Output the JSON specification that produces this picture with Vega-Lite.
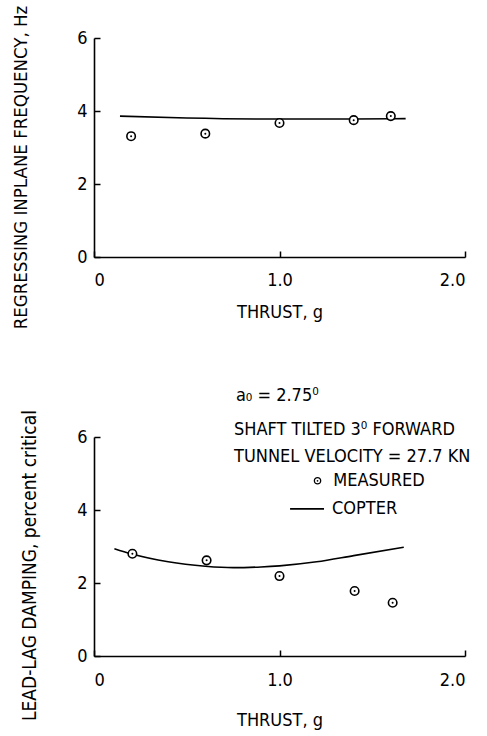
{
  "$schema": "https://vega.github.io/schema/vega-lite/v6.json",
  "background": "white",
  "padding": {"left": 10, "top": 2, "right": 4, "bottom": 2},
  "spacing": 55,
  "config": {
    "view": {"stroke": null},
    "font": "Liberation Sans Narrow, DejaVu Sans Condensed, Roboto",
    "axis": {
      "grid": false,
      "domainColor": "black",
      "domainWidth": 1.6,
      "tickColor": "black",
      "tickWidth": 1.5,
      "tickSize": -6,
      "labelColor": "black",
      "labelFont": "Liberation Sans Narrow, DejaVu Sans Condensed, Roboto",
      "labelFontSize": 18,
      "titleColor": "black",
      "titleFont": "Liberation Sans Narrow, DejaVu Sans Condensed, Roboto",
      "titleFontSize": 18,
      "titleFontWeight": "normal"
    },
    "text": {"font": "Liberation Sans Narrow, DejaVu Sans Condensed, Roboto", "fontSize": 18, "color": "black"}
  },
  "datasets": {
    "topMeasured": [
      {"thrust": 0.2, "freq": 3.31},
      {"thrust": 0.6, "freq": 3.38},
      {"thrust": 1.0, "freq": 3.67},
      {"thrust": 1.4, "freq": 3.75},
      {"thrust": 1.6, "freq": 3.86}
    ],
    "topCopter": [
      {"thrust": 0.14, "freq": 3.86},
      {"thrust": 0.5, "freq": 3.81},
      {"thrust": 1.0, "freq": 3.78},
      {"thrust": 1.4, "freq": 3.78},
      {"thrust": 1.68, "freq": 3.79}
    ],
    "botMeasured": [
      {"thrust": 0.207, "damping": 2.8},
      {"thrust": 0.607, "damping": 2.62},
      {"thrust": 1.0, "damping": 2.19},
      {"thrust": 1.405, "damping": 1.78},
      {"thrust": 1.61, "damping": 1.46}
    ],
    "botCopter": [
      {"thrust": 0.11, "damping": 2.94},
      {"thrust": 0.2, "damping": 2.8},
      {"thrust": 0.4, "damping": 2.58},
      {"thrust": 0.6, "damping": 2.46},
      {"thrust": 0.75, "damping": 2.42},
      {"thrust": 0.9, "damping": 2.44},
      {"thrust": 1.0, "damping": 2.47},
      {"thrust": 1.2, "damping": 2.58},
      {"thrust": 1.4, "damping": 2.75},
      {"thrust": 1.67, "damping": 2.98}
    ],
    "notes": [
      {"thrust": 0.765, "damping": 7.12, "label": "a₀ = 2.75⁰"},
      {"thrust": 0.755, "damping": 6.19, "label": "SHAFT TILTED 3⁰ FORWARD"},
      {"thrust": 0.755, "damping": 5.45, "label": "TUNNEL VELOCITY = 27.7 KN"},
      {"thrust": 1.29, "damping": 4.79, "label": "MEASURED"},
      {"thrust": 1.283, "damping": 4.03, "label": "COPTER"}
    ],
    "legendSymbol": [
      {"thrust": 1.205, "damping": 4.8}
    ],
    "legendLine": [
      {"thrust": 1.057, "thrust2": 1.24, "damping": 4.03}
    ]
  },
  "vconcat": [
    {
      "width": 371,
      "height": 219,
      "layer": [
        {
          "data": {"name": "topCopter"},
          "mark": {"type": "line", "color": "black", "strokeWidth": 1.6, "interpolate": "monotone"},
          "encoding": {
            "x": {"field": "thrust", "type": "quantitative", "scale": {"domain": [0, 2]},
              "axis": {"values": [0, 1, 2], "labelExpr": "datum.value == 0 ? '0' : format(datum.value, '.1f')", "title": "THRUST, g", "titlePadding": 14, "labelPadding": 20}},
            "y": {"field": "freq", "type": "quantitative", "scale": {"domain": [0, 6]},
              "axis": {"values": [0, 2, 4, 6], "title": "REGRESSING INPLANE FREQUENCY,  Hz", "titleFontSize": 18.5, "titleX": -74, "titleY": 129, "titleBaseline": "middle", "titleAlign": "center", "labelPadding": 13}}
          }
        },
        {
          "data": {"name": "topMeasured"},
          "mark": {"type": "point", "shape": "circle", "size": 72, "stroke": "black", "strokeWidth": 1.6, "fill": "white", "filled": false, "opacity": 1},
          "encoding": {
            "x": {"field": "thrust", "type": "quantitative"},
            "y": {"field": "freq", "type": "quantitative"}
          }
        },
        {
          "data": {"name": "topMeasured"},
          "mark": {"type": "circle", "size": 4, "color": "black", "opacity": 1},
          "encoding": {
            "x": {"field": "thrust", "type": "quantitative"},
            "y": {"field": "freq", "type": "quantitative"}
          }
        }
      ]
    },
    {
      "width": 371,
      "height": 219,
      "layer": [
        {
          "data": {"name": "botCopter"},
          "mark": {"type": "line", "color": "black", "strokeWidth": 1.6, "interpolate": "monotone"},
          "encoding": {
            "x": {"field": "thrust", "type": "quantitative", "scale": {"domain": [0, 2]},
              "axis": {"values": [0, 1, 2], "labelExpr": "datum.value == 0 ? '0' : format(datum.value, '.1f')", "title": "THRUST, g", "titlePadding": 22, "labelPadding": 21}},
            "y": {"field": "damping", "type": "quantitative", "scale": {"domain": [0, 6]},
              "axis": {"values": [0, 2, 4, 6], "title": "LEAD-LAG DAMPING, percent critical", "titleFontSize": 19, "titleX": -65, "titleY": 128, "titleBaseline": "middle", "titleAlign": "center", "labelPadding": 13}}
          }
        },
        {
          "data": {"name": "botMeasured"},
          "mark": {"type": "point", "shape": "circle", "size": 72, "stroke": "black", "strokeWidth": 1.6, "fill": "white", "filled": false, "opacity": 1},
          "encoding": {
            "x": {"field": "thrust", "type": "quantitative"},
            "y": {"field": "damping", "type": "quantitative"}
          }
        },
        {
          "data": {"name": "botMeasured"},
          "mark": {"type": "circle", "size": 4, "color": "black", "opacity": 1},
          "encoding": {
            "x": {"field": "thrust", "type": "quantitative"},
            "y": {"field": "damping", "type": "quantitative"}
          }
        },
        {
          "data": {"name": "notes"},
          "mark": {"type": "text", "align": "left", "baseline": "middle"},
          "encoding": {
            "x": {"field": "thrust", "type": "quantitative"},
            "y": {"field": "damping", "type": "quantitative"},
            "text": {"field": "label"}
          }
        },
        {
          "data": {"name": "legendSymbol"},
          "mark": {"type": "point", "shape": "circle", "size": 40, "stroke": "black", "strokeWidth": 1.3, "filled": false, "opacity": 1},
          "encoding": {
            "x": {"field": "thrust", "type": "quantitative"},
            "y": {"field": "damping", "type": "quantitative"}
          }
        },
        {
          "data": {"name": "legendSymbol"},
          "mark": {"type": "circle", "size": 3, "color": "black", "opacity": 1},
          "encoding": {
            "x": {"field": "thrust", "type": "quantitative"},
            "y": {"field": "damping", "type": "quantitative"}
          }
        },
        {
          "data": {"name": "legendLine"},
          "mark": {"type": "rule", "color": "black", "strokeWidth": 1.6},
          "encoding": {
            "x": {"field": "thrust", "type": "quantitative"},
            "x2": {"field": "thrust2"},
            "y": {"field": "damping", "type": "quantitative"}
          }
        }
      ]
    }
  ]
}
